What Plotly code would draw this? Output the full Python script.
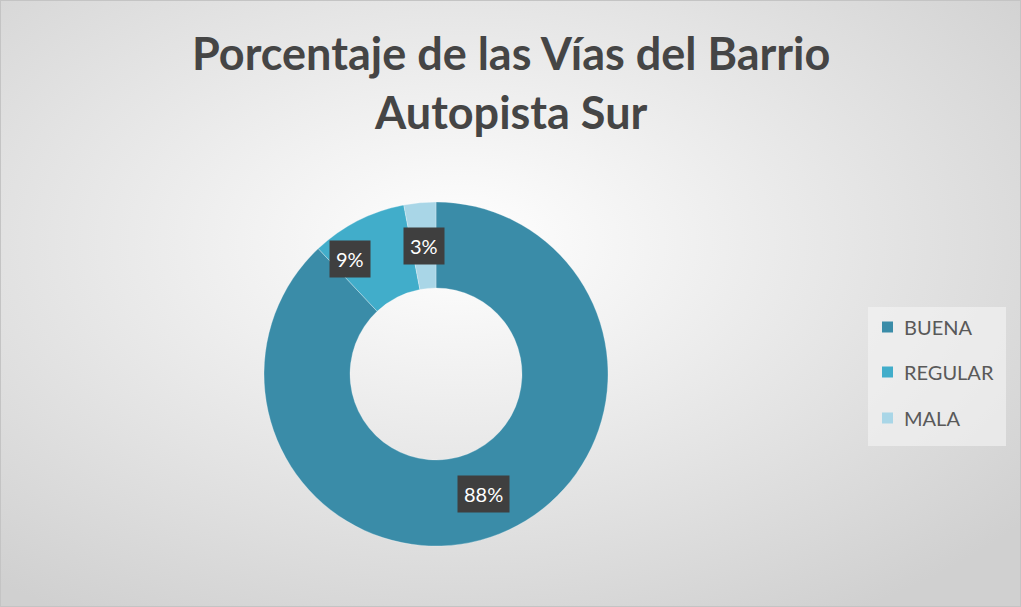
import base64, math
import plotly.graph_objects as go

# ---- data ----
categories = ["BUENA", "REGULAR", "MALA"]
values = [88, 9, 3]
colors = ["#3a8ca8", "#41adca", "#a9d6e7"]
title_lines = ["Porcentaje de las Vías del Barrio", "Autopista Sur"]

W, H = 1021, 607
cx, cy, R = 436, 374, 172
hole = 0.5

# background radial gradient as svg image
svg = f'''<svg xmlns="http://www.w3.org/2000/svg" width="{W}" height="{H}">
<defs><radialGradient id="g" cx="45%" cy="40%" r="72%">
<stop offset="0%" stop-color="#ffffff"/><stop offset="100%" stop-color="#d0d0d0"/>
</radialGradient></defs>
<rect width="{W}" height="{H}" fill="url(#g)"/>
<rect x="0.5" y="0.5" width="{W-1}" height="{H-1}" fill="none" stroke="#c4c4c4" stroke-width="1"/>
</svg>'''
bg = "data:image/svg+xml;base64," + base64.b64encode(svg.encode()).decode()

fig = go.Figure(go.Pie(
    labels=categories, values=values, hole=hole, sort=False,
    direction="clockwise", rotation=0,
    marker=dict(colors=colors, line=dict(color="rgba(255,255,255,0.35)", width=0.8)),
    textinfo="none", hoverinfo="label+percent", showlegend=False,
    domain=dict(x=[(cx - R) / W, (cx + R) / W], y=[1 - (cy + R) / H, 1 - (cy - R) / H]),
))

# data labels computed from values
total = sum(values)
acc = 0
label_dx = [0, -27, 0]
annotations = []
for i, v in enumerate(values):
    mid = (acc + v / 2) / total * 2 * math.pi
    acc += v
    r = R * (1 + hole) / 2
    x = cx + r * math.sin(mid) + label_dx[i]
    y = cy - r * math.cos(mid)
    annotations.append(dict(
        x=x / W, y=1 - y / H, xref="paper", yref="paper",
        xanchor="center", yanchor="middle",
        text=f"{round(v / total * 100)}%", showarrow=False,
        font=dict(family="Lato, Open Sans", size=20, color="white"),
        bgcolor="#3f3f3f", borderpad=6,
    ))

# title
annotations.append(dict(x=0.5, y=1 - 82 / H, xref="paper", yref="paper",
                        xanchor="center", yanchor="middle", showarrow=False,
                        text="<br>".join(title_lines),
                        font=dict(family="Lato", size=45, color="#454545", weight="bold")))

# custom legend
shapes = [dict(type="rect", xref="paper", yref="paper",
               x0=868 / W, x1=1006 / W, y0=1 - 446 / H, y1=1 - 307 / H,
               fillcolor="rgba(245,245,245,0.6)", line=dict(width=0), layer="below")]
leg_y = [327, 372, 418]
for cat, col, ly in zip(categories, colors, leg_y):
    shapes.append(dict(type="rect", xref="paper", yref="paper",
                       x0=882 / W, x1=893 / W, y0=1 - (ly + 5.5) / H, y1=1 - (ly - 5.5) / H,
                       fillcolor=col, line=dict(width=0)))
    annotations.append(dict(x=902 / W, y=1 - ly / H, xref="paper", yref="paper",
                            xanchor="left", yanchor="middle", text=cat, showarrow=False,
                            font=dict(family="Lato, Open Sans", size=20, color="#595959")))

fig.update_layout(
    width=W, height=H, margin=dict(l=0, r=0, t=0, b=0),
    paper_bgcolor="#e6e6e6", plot_bgcolor="rgba(0,0,0,0)",
    annotations=annotations, shapes=shapes,
    images=[dict(source=bg, xref="paper", yref="paper", x=0, y=1, sizex=1, sizey=1,
                 xanchor="left", yanchor="top", sizing="stretch", layer="below")],
)
fig.write_html("out.html", config={"displayModeBar": False},
               post_script="document.body.style.margin='0';document.body.style.overflow='hidden';")
